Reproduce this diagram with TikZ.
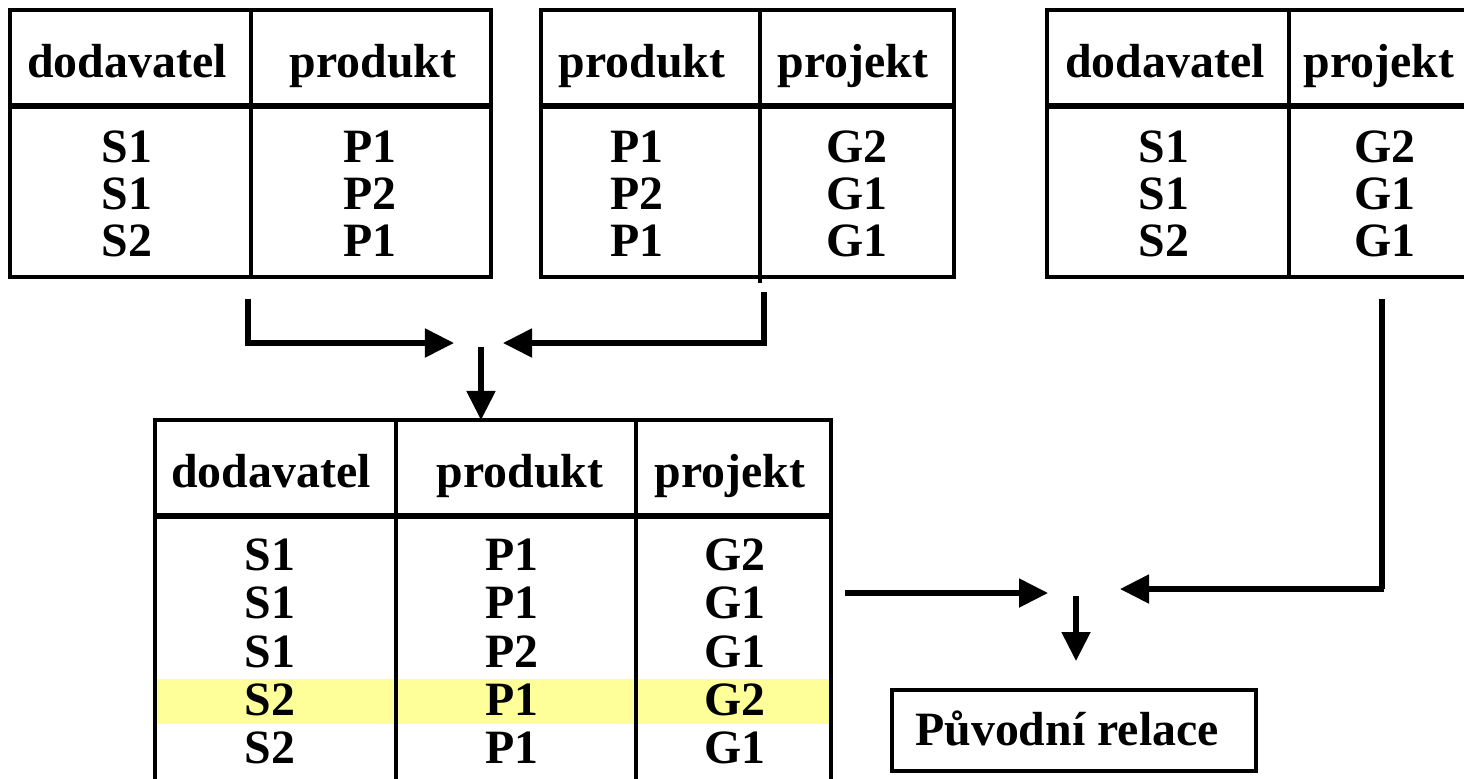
\documentclass[tikz,border=0pt]{standalone}
\usepackage{fontspec}
\setmainfont{Liberation Serif}
\usetikzlibrary{arrows.meta}
\definecolor{hl}{HTML}{FFFF99}
\tikzset{
  cell/.style={anchor=base, inner sep=0pt, font=\fontsize{13.6pt}{16pt}\selectfont\bfseries},
  tbl/.style={line width=1pt},
  hsep/.style={line width=1.7pt},
  conn/.style={line width=1.45pt},
  arr/.style={conn, -{Triangle[length=0.29cm,width=0.28cm]}},
}
\begin{document}
\begin{tikzpicture}[x=0.01cm,y=-0.01cm]
\clip (0,0) rectangle (1464,778);
\fill[white] (0,0) rectangle (1464,778);

% ---------- table 1 ----------
\draw[tbl] (10,10) rectangle (491,277);
\draw[tbl] (251,10) -- (251,277);
\draw[hsep] (10,106) -- (491,106);
\node[cell] (t1h1) at (127,77) {dodavatel};
\node[cell] (t1h2) at (373,77) {produkt};
\node[cell] (t1a1) at (127,162) {S1};
\node[cell] (t1a2) at (127,209) {S1};
\node[cell] (t1a3) at (127,256) {S2};
\node[cell] (t1b1) at (370,162) {P1};
\node[cell] (t1b2) at (370,209) {P2};
\node[cell] (t1b3) at (370,256) {P1};

% ---------- table 2 ----------
\draw[tbl] (541,10) rectangle (954,277);
\draw[tbl] (760,10) -- (760,283);
\draw[hsep] (541,106) -- (954,106);
\node[cell] (t2h1) at (642,77) {produkt};
\node[cell] (t2h2) at (853,77) {projekt};
\node[cell] (t2a1) at (637,162) {P1};
\node[cell] (t2a2) at (637,209) {P2};
\node[cell] (t2a3) at (637,256) {P1};
\node[cell] (t2b1) at (857,162) {G2};
\node[cell] (t2b2) at (857,209) {G1};
\node[cell] (t2b3) at (857,256) {G1};

% ---------- table 3 (cut at right) ----------
\draw[tbl] (1470,10) -- (1047,10) -- (1047,277) -- (1470,277);
\draw[tbl] (1289,10) -- (1289,277);
\draw[hsep] (1047,106) -- (1470,106);
\node[cell] (t3h1) at (1165,77) {dodavatel};
\node[cell] (t3h2) at (1379,77) {projekt};
\node[cell] (t3a1) at (1164,162) {S1};
\node[cell] (t3a2) at (1164,209) {S1};
\node[cell] (t3a3) at (1164,256) {S2};
\node[cell] (t3b1) at (1385,162) {G2};
\node[cell] (t3b2) at (1385,209) {G1};
\node[cell] (t3b3) at (1385,256) {G1};

% ---------- bottom table (join result) ----------
\fill[hl] (155,679) rectangle (831,724);
\draw[tbl] (155,800) -- (155,420) -- (831,420) -- (831,800);
\draw[tbl] (396,420) -- (396,800);
\draw[tbl] (636,420) -- (636,800);
\draw[hsep] (155,516) -- (831,516);
\node[cell] (jh1) at (271,487) {dodavatel};
\node[cell] (jh2) at (520,487) {produkt};
\node[cell] (jh3) at (730,487) {projekt};
\foreach \y/\a/\b/\c [count=\i] in {570/S1/P1/G2, 618/S1/P1/G1, 667/S1/P2/G1, 715/S2/P1/G2, 763/S2/P1/G1}{
  \node[cell] (ja\i) at (270,\y) {\a};
  \node[cell] (jb\i) at (512,\y) {\b};
  \node[cell] (jc\i) at (735,\y) {\c};
}

% ---------- result box ----------
\draw[tbl] (892,690) rectangle (1256,771);
\node[cell] (res) at (1067,745) {Původní relace};

% ---------- connectors ----------
\coordinate (a1s) at (248,302);
\coordinate (a1c) at (248,343);
\coordinate (a1e) at (454,343);
\coordinate (a2s) at (764,295);
\coordinate (a2c) at (764,343);
\coordinate (a2e) at (503,343);
\coordinate (a3s) at (481,347);
\coordinate (a3e) at (481,420);
\draw[conn, line cap=rect] (a1s) -- (a1c);
\draw[arr] (a1c) -- (a1e);
\draw[conn, line cap=rect] (a2s) -- (a2c);
\draw[arr] (a2c) -- (a2e);
\draw[arr] (a3s) -- (a3e);

\coordinate (b1s) at (845,593);
\coordinate (b1e) at (1048,593);
\coordinate (b2s) at (1382,299);
\coordinate (b2c) at (1382,589);
\coordinate (b2e) at (1120,589);
\coordinate (b3s) at (1076,596);
\coordinate (b3e) at (1076,661);
\draw[arr] (b1s) -- (b1e);
\draw[conn] (b2s) -- (b2c);
\draw[arr] ([xshift=0.7pt]b2c) -- (b2e);
\draw[arr] (b3s) -- (b3e);
\end{tikzpicture}
\end{document}
